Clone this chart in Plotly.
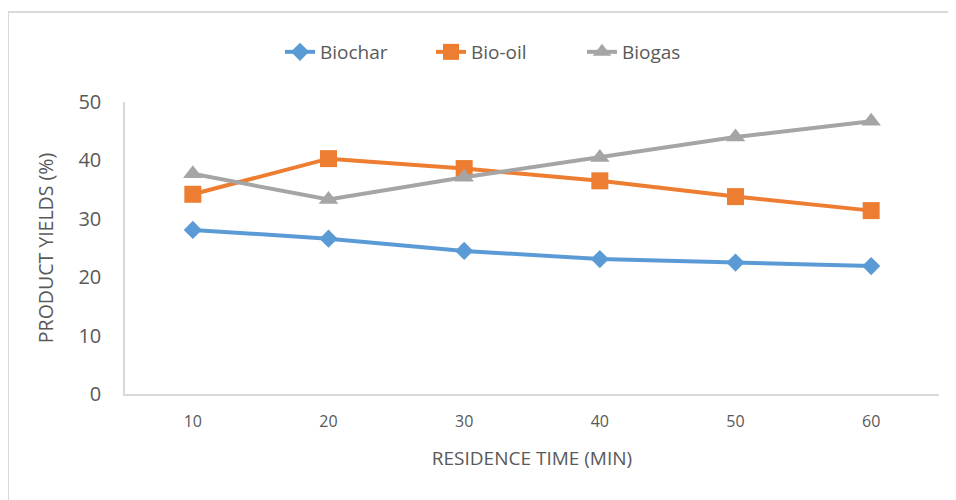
import plotly.graph_objects as go

times = ["10", "20", "30", "40", "50", "60"]
biochar = [28.1, 26.6, 24.5, 23.1, 22.5, 21.9]
bio_oil = [34.2, 40.3, 38.6, 36.5, 33.8, 31.4]
biogas = [37.7, 33.3, 37.1, 40.5, 44.0, 46.7]

series = [
    ("Biochar", biochar, "#5B9BD5", "diamond", 14),
    ("Bio-oil", bio_oil, "#ED7D31", "square", 17),
    ("Biogas", biogas, "#A5A5A5", "triangle-up", 17),
]

fig = go.Figure()
for name, vals, color, sym, size in series:
    fig.add_trace(go.Scatter(
        x=times, y=vals, name=name, mode="lines+markers",
        line=dict(color=color, width=4),
        marker=dict(symbol=sym, size=size, color=color),
    ))

# page is rendered with an 8px body offset
W, H = 956, 500
L, R, T, B = 117, 25, 94, 114
pw, ph = W - L - R, H - T - B

def px(x):
    return (x - L) / pw

def py(y):
    return 1 - (y - T) / ph

grey = "#595959"
fig.update_layout(
    width=W, height=H,
    margin=dict(l=L, r=R, t=T, b=B),
    paper_bgcolor="white", plot_bgcolor="white",
    font=dict(family="Open Sans", color=grey),
    showlegend=True,
    legend=dict(orientation="h", x=px(272), xanchor="left", y=py(44), yanchor="middle",
                font=dict(size=19, color=grey), tracegroupgap=0,
                entrywidth=106, entrywidthmode="pixels"),
    xaxis=dict(
        type="category", showgrid=False, showline=True, linecolor="#d9d9d9", linewidth=1.5,
        tickfont=dict(size=16, color=grey), ticks="", ticklabelstandoff=12,
        title=dict(text="RESIDENCE TIME (MIN)", font=dict(size=19, color=grey), standoff=21),
        range=[-0.5, 5.5],
    ),
    yaxis=dict(
        range=[0, 50], dtick=10, showgrid=False, showline=True, linecolor="#d9d9d9", linewidth=1.5,
        tickfont=dict(size=20, color=grey), ticks="", ticklabelstandoff=18, zeroline=False,
        title=dict(text="PRODUCT YIELDS (%)", font=dict(size=19.5, color=grey), standoff=20),
    ),
    shapes=[
        dict(type="line", xref="paper", yref="paper", x0=px(0), x1=px(0), y0=py(4), y1=py(520),
             line=dict(color="#d9d9d9", width=2)),
        dict(type="line", xref="paper", yref="paper", x0=px(0), x1=px(970), y0=py(4), y1=py(4),
             line=dict(color="#d9d9d9", width=2)),
    ],
)

fig.write_html("out.html")
